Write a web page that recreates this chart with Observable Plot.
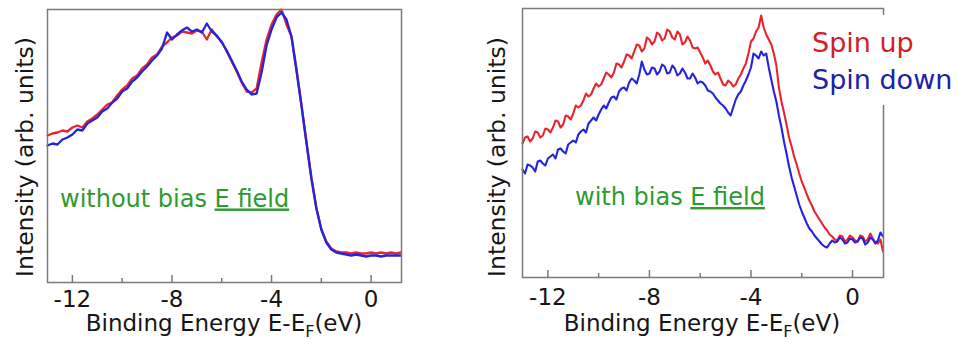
<!DOCTYPE html>
<html><head><meta charset="utf-8">
<script src="https://cdn.jsdelivr.net/npm/d3@7"></script>
<script src="https://cdn.jsdelivr.net/npm/@observablehq/plot@0.6"></script>
<style>
html,body{margin:0;padding:0;background:#fff;}
#wrap{position:relative;width:959px;height:340px;overflow:hidden;font-family:"DejaVu Sans",sans-serif;}
#wrap > *{position:absolute;top:0;}
</style></head><body><div id="wrap"></div>
<script>
// Binding energy E - E_F (eV), left panel sampling
const energy = [
-13.0,-12.8,-12.6,-12.4,-12.2,-12.0,-11.8,-11.6,-11.4,-11.2,
-11.0,-10.8,-10.6,-10.4,-10.2,-10.0,-9.8,-9.6,-9.4,-9.2,
-9.0,-8.8,-8.6,-8.4,-8.2,-8.0,-7.8,-7.6,-7.4,-7.2,
-7.0,-6.8,-6.6,-6.4,-6.2,-6.0,-5.8,-5.6,-5.4,-5.2,
-5.0,-4.8,-4.6,-4.4,-4.2,-4.0,-3.8,-3.6,-3.4,-3.2,
-3.0,-2.8,-2.6,-2.4,-2.2,-2.0,-1.8,-1.6,-1.4,-1.2,
-1.0,-0.8,-0.6,-0.4,-0.2,0.0,0.2,0.4,0.6,0.8,
1.0,1.2];

// without bias E field
const leftUp = [
147,149,150,152,151,155,157,155,161,164,
168,173,178,180,187,193,197,204,207,214,
218,225,228,236,240,245,247,251,250,249,
252,251,243,253,246,241,231,221,211,200,
191,190,194,220,243,258,268,273,258,246,
214,178,141,105,75,53,41,34,31,30,
30,29,30,29,29,30,29,30,29,30,
29,30];
const leftDown = [
137,139,138,143,145,148,153,152,159,162,
165,171,174,180,184,191,194,201,205,211,
216,222,227,234,250,243,248,252,255,251,
253,250,259,251,247,240,232,222,212,201,
193,188,189,210,237,253,265,270,263,246,
212,177,140,104,74,53,40,33,30,29,
28,27,28,27,26,27,27,26,27,27,
27,27];

// Binding energy E - E_F (eV), right panel sampling
const energyFine = [
-13.0,-12.9,-12.8,-12.7,-12.6,-12.5,-12.4,-12.3,-12.2,-12.1,
-12.0,-11.9,-11.8,-11.7,-11.6,-11.5,-11.4,-11.3,-11.2,-11.1,
-11.0,-10.9,-10.8,-10.7,-10.6,-10.5,-10.4,-10.3,-10.2,-10.1,
-10.0,-9.9,-9.8,-9.7,-9.6,-9.5,-9.4,-9.3,-9.2,-9.1,
-9.0,-8.9,-8.8,-8.7,-8.6,-8.5,-8.4,-8.3,-8.2,-8.1,
-8.0,-7.9,-7.8,-7.7,-7.6,-7.5,-7.4,-7.3,-7.2,-7.1,
-7.0,-6.9,-6.8,-6.7,-6.6,-6.5,-6.4,-6.3,-6.2,-6.1,
-6.0,-5.9,-5.8,-5.7,-5.6,-5.5,-5.4,-5.3,-5.2,-5.1,
-5.0,-4.9,-4.8,-4.7,-4.6,-4.5,-4.4,-4.3,-4.2,-4.1,
-4.0,-3.9,-3.8,-3.7,-3.6,-3.5,-3.4,-3.3,-3.2,-3.1,
-3.0,-2.9,-2.8,-2.7,-2.6,-2.5,-2.4,-2.3,-2.2,-2.1,
-2.0,-1.9,-1.8,-1.7,-1.6,-1.5,-1.4,-1.3,-1.2,-1.1,
-1.0,-0.9,-0.8,-0.7,-0.6,-0.5,-0.4,-0.3,-0.2,-0.1,
0.0,0.1,0.2,0.3,0.4,0.5,0.6,0.7,0.8,0.9,1.0,1.1,1.2];

// with bias E field
const rightUp = [
134,140,141,136,139,146,145,140,142,149,
148,145,150,157,156,150,153,162,161,158,
164,172,170,172,177,184,181,183,189,194,
191,193,199,205,203,200,205,214,213,210,
216,223,222,219,226,233,232,226,229,240,
238,233,236,245,243,237,239,248,246,240,
238,246,243,233,235,241,237,230,229,230,
225,220,214,217,212,206,203,205,199,193,
192,197,195,191,193,199,203,209,214,224,
236,239,246,250,262,250,243,238,233,224,
212,190,176,165,153,140,131,121,113,104,
96,90,83,77,72,66,62,58,54,50,
47,43,41,38,37,42,41,36,38,42,
40,37,36,42,41,36,38,44,39,35,34,38,26];
const rightDown = [
108,104,113,112,110,106,116,117,114,112,
119,121,123,119,128,129,126,124,133,135,
137,135,143,146,148,145,154,157,160,157,
163,168,172,169,175,180,181,178,186,189,
190,187,195,199,197,194,203,216,208,203,
204,210,209,203,206,213,211,204,205,212,
209,202,204,209,205,199,199,204,200,194,
196,195,192,187,186,184,180,177,174,172,
169,165,162,170,178,183,186,192,197,203,
210,224,222,219,226,222,224,210,198,186,
176,162,150,136,124,111,100,91,82,73,
66,60,54,49,46,42,39,36,33,31,
30,34,37,35,36,40,38,34,35,39,
38,35,36,40,39,33,35,40,38,34,37,45,41];

const majorTicks = [-12, -8, -4, 0];
const minorTicks = [-10, -6, -2];
const tickLabels = ["-12", "-8", "-4", "0"];
const seriesNames = ["Spin up", "Spin down"];
const panelNotes = ["without bias ", "with bias "];
const noteUnderlined = "E field";
const xTitle = ["Binding Energy E-E", "F", "(eV)"];
const yTitle = "Intensity (arb. units)";

const RED = "#e8252c", BLUE = "#2424e0", GRAY = "#7a7a7a", TXT = "#161616", GREEN = "#2e9a2e";

function panel({xs, up, down, width, ml, mr, mt, mb, ymax, pad, sw}) {
  const rows = xs.map((e, i) => ({e, up: up[i], down: down[i]}));
  return Plot.plot({
    width, height: 340,
    marginLeft: ml, marginRight: mr, marginTop: mt, marginBottom: mb,
    x: {domain: [-13, 1.22], label: null},
    y: {domain: [0, ymax], axis: null},
    style: {fontFamily: "DejaVu Sans", fontSize: "23px", color: TXT, background: "transparent", overflow: "visible"},
    marks: [
      Plot.ruleX(majorTicks, {y1: 0, y2: 7, stroke: GRAY, strokeWidth: 1.5}),
      Plot.ruleX(minorTicks, {y1: 0, y2: 4, stroke: GRAY, strokeWidth: 1.5}),
      Plot.axisX(majorTicks, {tickSize: 0, tickPadding: pad, label: null,
        tickFormat: d => tickLabels[majorTicks.indexOf(d)]}),
      Plot.lineY(rows, {x: "e", y: "up", stroke: RED, strokeWidth: sw, strokeLinejoin: "round"}),
      Plot.lineY(rows, {x: "e", y: "down", stroke: BLUE, strokeWidth: sw, strokeLinejoin: "round"}),
      Plot.frame({stroke: GRAY, strokeWidth: 1.5})
    ]
  });
}

const wrap = document.getElementById("wrap");
const p1 = panel({xs: energy, up: leftUp, down: leftDown, width: 480, ml: 47, mr: 79, mt: 9, mb: 58, ymax: 273, pad: 8, sw: 2.3});
p1.style.left = "0px";
wrap.appendChild(p1);
const p2 = panel({xs: energyFine, up: rightUp, down: rightDown, width: 479, ml: 42, mr: 76, mt: 8, mb: 63, ymax: 269, pad: 11, sw: 2.1});
p2.style.left = "480px";
wrap.appendChild(p2);

// text overlay: axis titles, notes, legend
const ov = d3.create("svg").attr("width", 959).attr("height", 340)
  .style("position", "absolute").style("left", "0px").style("top", "0px")
  .attr("font-family", "DejaVu Sans");

function yLabel(x, y) {
  ov.append("text").attr("transform", `translate(${x},${y}) rotate(-90)`)
    .attr("text-anchor", "middle").attr("font-size", 23.5).attr("fill", TXT).text(yTitle);
}
function xLabel(x, y) {
  const t = ov.append("text").attr("x", x).attr("y", y).attr("text-anchor", "middle")
    .attr("font-size", 23).attr("fill", TXT);
  t.append("tspan").text(xTitle[0]);
  t.append("tspan").attr("font-size", 16).attr("dy", 6).text(xTitle[1]);
  t.append("tspan").attr("dy", -6).text(xTitle[2]);
}
function note(x, y, s) {
  const t = ov.append("text").attr("x", x).attr("y", y).attr("font-size", 24).attr("fill", GREEN);
  t.append("tspan").text(s);
  t.append("tspan").attr("text-decoration", "underline").text(noteUnderlined);
}
yLabel(33, 157); yLabel(505, 157);
xLabel(224, 331); xLabel(702, 331);
note(60, 206.5, panelNotes[0]); note(575, 205, panelNotes[1]);

ov.append("rect").attr("x", 806).attr("y", 15).attr("width", 153).attr("height", 90).attr("fill", "#fff");
ov.append("text").attr("x", 812).attr("y", 52).attr("font-size", 27).attr("fill", "#d0202a").text(seriesNames[0]);
ov.append("text").attr("x", 812).attr("y", 89).attr("font-size", 27).attr("fill", "#2020a8").text(seriesNames[1]);

wrap.appendChild(ov.node());
</script></body></html>
